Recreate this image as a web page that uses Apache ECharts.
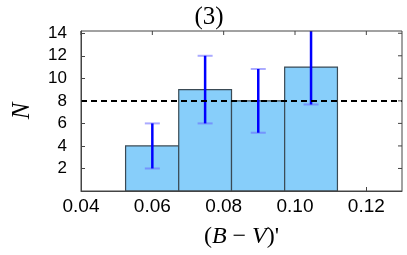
<!DOCTYPE html>
<html><head><meta charset="utf-8">
<script src="https://cdn.jsdelivr.net/npm/echarts@6/dist/echarts.min.js"></script>
<style>html,body{margin:0;padding:0;background:#fff}#c{width:407px;height:255px}</style>
</head><body><div id="c"></div>
<script>
const binEdges = [0.0525, 0.0674, 0.0822, 0.0971, 0.1119];
const counts = [4, 9, 8, 11];
const errCenters = [0.06, 0.0748, 0.0897, 0.1045];
const errLow = [2, 6, 5.17, 7.68];
const errHigh = [6, 12, 10.83, 14.32];
const refLevel = 8;
const xTicks = [0.04, 0.06, 0.08, 0.10, 0.12];
const yTicks = [2, 4, 6, 8, 10, 12, 14];

const barData = counts.map((c, i) => [binEdges[i], binEdges[i + 1], c]);
const errData = errCenters.map((x, i) => [x, errLow[i], errHigh[i]]);

const chart = echarts.init(document.getElementById('c'), null, {renderer: 'canvas'});
const frame = '#444';
chart.setOption({
  animation: false,
  title: {
    text: '(3)', left: 204, top: 0, textAlign: 'center',
    textStyle: {fontFamily: 'Liberation Serif', fontSize: 25, fontWeight: 'normal', color: '#000'}
  },
  grid: {left: 81, right: 5, top: 31, bottom: 64},
  xAxis: {
    type: 'value', min: 0.04, max: 0.13, interval: 0.02,
    axisLine: {show: true, lineStyle: {color: frame, width: 1}},
    axisTick: {show: true, inside: true, length: 4, lineStyle: {color: frame}},
    splitLine: {show: false},
    axisLabel: {
      margin: 6, fontFamily: 'Liberation Sans', fontSize: 19, color: '#000',
      formatter: v => xTicks.some(t => Math.abs(t - v) < 1e-6) ? v.toFixed(2) : '',
      showMaxLabel: false
    },
    name: '{p|(}{i|B}{p| − }{i|V}{p|)\'}', nameLocation: 'middle', nameGap: 34,
    nameTextStyle: {
      rich: {
        p: {fontFamily: 'Liberation Serif', fontSize: 24, color: '#000'},
        i: {fontFamily: 'Liberation Serif', fontSize: 24, fontStyle: 'italic', color: '#000'}
      }
    }
  },
  yAxis: {
    type: 'value', min: 0, max: 14.2, interval: 2,
    axisLine: {show: true, lineStyle: {color: frame, width: 1}},
    axisTick: {show: true, inside: true, length: 4, lineStyle: {color: frame}},
    splitLine: {show: false},
    axisLabel: {
      margin: 14, fontFamily: 'Liberation Sans', fontSize: 17, color: '#000',
      formatter: v => yTicks.indexOf(Math.round(v * 100) / 100) >= 0 ? String(v) : '',
      showMaxLabel: false
    },
    name: 'N', nameLocation: 'middle', nameGap: 46, nameRotate: 90,
    nameTextStyle: {fontFamily: 'Liberation Serif', fontStyle: 'italic', fontSize: 25, color: '#000'}
  },
  series: [
    {
      type: 'custom', clip: true, z: 2,
      data: barData,
      encode: {x: [0, 1], y: 2},
      renderItem: (params, api) => {
        const p0 = api.coord([api.value(0), api.value(2)]);
        const p1 = api.coord([api.value(1), 0]);
        return {
          type: 'rect',
          shape: {x: p0[0], y: p0[1], width: p1[0] - p0[0], height: p1[1] - p0[1]},
          style: {fill: '#87CEFA', stroke: '#3a4a55', lineWidth: 1.2}
        };
      }
    },
    {
      type: 'custom', clip: true, z: 4,
      data: errData,
      encode: {x: 0, y: [1, 2]},
      renderItem: (params, api) => {
        const lo = api.coord([api.value(0), api.value(1)]);
        const hi = api.coord([api.value(0), api.value(2)]);
        const hw = 7.5;
        return {
          type: 'group',
          children: [
            {type: 'line', shape: {x1: lo[0] - hw, y1: lo[1], x2: lo[0] + hw, y2: lo[1]}, style: {stroke: 'rgba(100,100,255,0.55)', lineWidth: 2}},
            {type: 'line', shape: {x1: hi[0] - hw, y1: hi[1], x2: hi[0] + hw, y2: hi[1]}, style: {stroke: 'rgba(100,100,255,0.55)', lineWidth: 2}},
            {type: 'line', shape: {x1: lo[0], y1: lo[1], x2: hi[0], y2: hi[1]}, style: {stroke: '#0000ff', lineWidth: 2.5}}
          ]
        };
      }
    },
    {
      type: 'line', data: [], z: 3,
      markLine: {
        silent: true, symbol: 'none', label: {show: false},
        lineStyle: {color: '#000', type: [6, 4], width: 2},
        data: [{yAxis: refLevel}]
      }
    }
  ]
});
// frame plus top and right ticks
const g = [
  {type: 'rect', shape: {x: 81, y: 31, width: 321, height: 160}, style: {fill: 'none', stroke: frame, lineWidth: 1}, z: 10, silent: true}
];
xTicks.forEach(t => {
  const p = chart.convertToPixel({gridIndex: 0}, [t, 14.2]);
  g.push({type: 'line', shape: {x1: p[0], y1: p[1], x2: p[0], y2: p[1] + 4}, style: {stroke: frame, lineWidth: 1}, z: 10, silent: true});
});
yTicks.forEach(t => {
  const p = chart.convertToPixel({gridIndex: 0}, [0.13, t]);
  g.push({type: 'line', shape: {x1: p[0], y1: p[1], x2: p[0] - 4, y2: p[1]}, style: {stroke: frame, lineWidth: 1}, z: 10, silent: true});
});
chart.setOption({graphic: g});
</script></body></html>
